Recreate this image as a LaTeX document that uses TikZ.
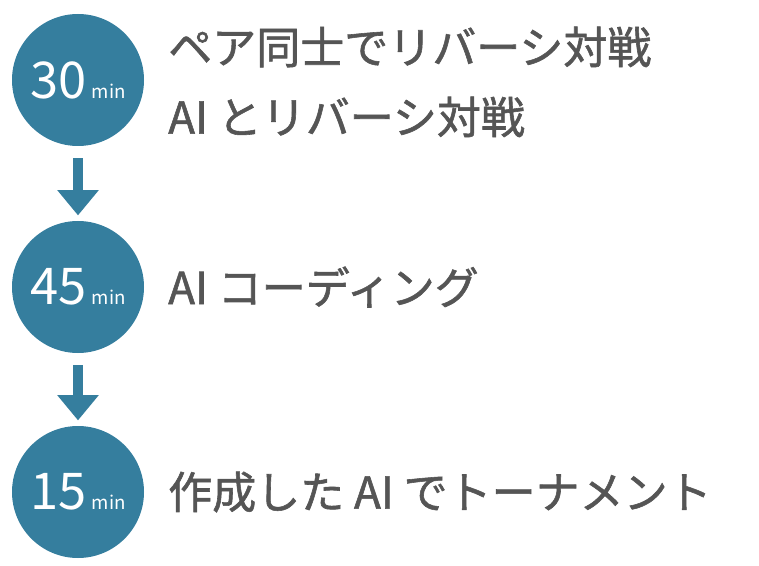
\documentclass[tikz,border=0pt]{standalone}
\usepackage{fontspec}
\setmainfont{Noto Sans CJK JP}
\newfontfamily\taskfont[FakeBold=1.3]{Noto Sans CJK JP}
\usetikzlibrary{arrows.meta}
\definecolor{teal}{HTML}{357E9E}
\definecolor{textgray}{HTML}{555555}
\begin{document}
\begin{tikzpicture}[x=0.75pt,y=-0.75pt]
\tikzstyle{stage}=[circle, fill=teal, text=white, minimum size=99pt, inner sep=0pt]
\tikzstyle{task}=[anchor=west, text=textgray, font=\taskfont\fontsize{33pt}{38pt}\selectfont, inner sep=0pt]
\tikzstyle{connect}=[draw=teal, line width=7.5pt, -{Triangle[width=30pt,length=19pt]}, shorten <=9pt, shorten >=4pt]
\newcommand{\stagetime}[1]{{\fontsize{38pt}{40pt}\selectfont #1}\kern4pt{\fontsize{14pt}{16pt}\selectfont min}}
\useasboundingbox (0,0) rectangle (759,566);

  \node[stage] (first)  at (78,80)  {\stagetime{30}};
  \node[stage] (second) at (78,287) {\stagetime{45}};
  \node[stage] (third)  at (78,492) {\stagetime{15}};

  \node[task] (pair)   at (168,47)  {ペア同士でリバーシ対戦};
  \node[task] (vsai)   at (168,117) {AI とリバーシ対戦};
  \node[task] (coding) at (168,287) {AI コーディング};
  \node[task] (tourn)  at (168,492) {作成した AI でトーナメント};

  \draw[connect] (first.south) -- (second.north);
  \draw[connect] (second.south) -- (third.north);

\end{tikzpicture}
\end{document}
